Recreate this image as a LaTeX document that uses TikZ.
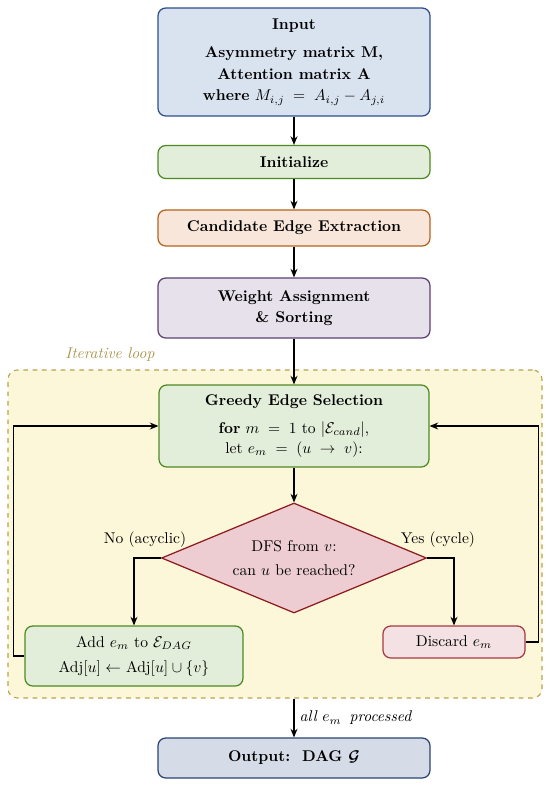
\documentclass[tikz,border=0pt]{standalone}
\usepackage{amsmath}
\usetikzlibrary{shapes.geometric,arrows.meta,positioning}

\definecolor{inputfill}{HTML}{D9E2EF}
\definecolor{inputline}{HTML}{2F4D8A}
\definecolor{greenfill}{HTML}{E3EEDA}
\definecolor{greenline}{HTML}{4E8A22}
\definecolor{candfill}{HTML}{F8E6DA}
\definecolor{candline}{HTML}{B5621C}
\definecolor{weightfill}{HTML}{E7E1EC}
\definecolor{weightline}{HTML}{5E3F72}
\definecolor{loopfill}{HTML}{FDF7DA}
\definecolor{loopline}{HTML}{B9A24E}
\definecolor{looptext}{HTML}{A8954F}
\definecolor{dfsfill}{HTML}{EDCDD1}
\definecolor{dfsline}{HTML}{8E1B1F}
\definecolor{discfill}{HTML}{F3E1E3}
\definecolor{discline}{HTML}{A63A42}
\definecolor{outfill}{HTML}{D5DCE8}
\definecolor{outline}{HTML}{2B4373}

\begin{document}
\begin{tikzpicture}[x=0.642pt, y=-0.642pt,
    block/.style={draw, rounded corners=5pt, line width=0.8pt, align=center, inner sep=2pt},
    conn/.style={-{Stealth[length=5.5pt,width=4.5pt]}, line width=0.7pt},
    side/.style={font=\normalsize}]
    %--------------------%
    % Parameters
    %--------------------%
    \def\pxl{0.642pt}
    \def\colx{294}
    \def\colw{272*\pxl}

    \useasboundingbox (0,0) rectangle (550,787);

    %--------------------%
    % Loop Container
    %--------------------%
    \node[draw=loopline, fill=loopfill, dashed, line width=0.7pt, rounded corners=6pt,
          minimum width=534*\pxl, minimum height=328*\pxl] (loop) at (275,534) {};
    \node[text=looptext, font=\itshape] (looplabel) at (110,355) {Iterative loop};

    %--------------------%
    % Main Column
    %--------------------%
    \node[block, fill=inputfill, draw=inputline, minimum width=\colw, minimum height=108*\pxl] (input) at (\colx,62)
        {\textbf{Input}\\[6pt] \textbf{Asymmetry matrix M,}\\[2pt] \textbf{Attention matrix A}\\[2pt] \textbf{where} $M_{i,j} \;=\; A_{i,j} - A_{j,i}$};
    \node[block, fill=greenfill, draw=greenline, minimum width=\colw, minimum height=33*\pxl] (init) at (\colx,162)
        {\textbf{Initialize}};
    \node[block, fill=candfill, draw=candline, minimum width=\colw, minimum height=36*\pxl] (cand) at (\colx,228)
        {\textbf{Candidate Edge Extraction}};
    \node[block, fill=weightfill, draw=weightline, minimum width=\colw, minimum height=60*\pxl] (weight) at (\colx,308)
        {\textbf{Weight Assignment}\\[1.5pt] \textbf{\& Sorting}};

    %--------------------%
    % Loop Body
    %--------------------%
    \node[block, fill=greenfill, draw=greenline, minimum width=270*\pxl, minimum height=82*\pxl] (greedy) at (\colx,426)
        {\textbf{Greedy Edge Selection}\\[6pt] \textbf{for} $m \;=\; 1$ to $|\mathcal{E}_{cand}|$,\\[1pt] let $e_m \;=\; (u \;\to\; v)$:};
    \node[draw=dfsline, fill=dfsfill, diamond, line width=0.8pt, aspect=2.4, inner sep=0pt, align=center,
          minimum width=265*\pxl, minimum height=110*\pxl] (dfs) at (\colx,558)
        {DFS from $v$:\\[3pt] can $u$ be reached?};
    \node[block, fill=greenfill, draw=greenline, minimum width=218*\pxl, minimum height=60*\pxl] (add) at (134,656)
        {Add $e_m$ to $\mathcal{E}_{DAG}$\\[4pt] Adj$[u] \leftarrow$ Adj$[u] \cup \{v\}$};
    \node[block, fill=discfill, draw=discline, minimum width=142*\pxl, minimum height=32*\pxl] (discard) at (454,642)
        {Discard $e_m$};

    \node[side] (nolabel) at (145,540) {No (acyclic)};
    \node[side] (yeslabel) at (438,540) {Yes (cycle)};

    %--------------------%
    % Output
    %--------------------%
    \node[block, fill=outfill, draw=outline, minimum width=\colw, minimum height=40*\pxl] (out) at (\colx,758)
        {\textbf{Output:\ \ DAG $\boldsymbol{\mathcal{G}}$}};

    %--------------------%
    % Connections
    %--------------------%
    \draw[conn] (input) -- (init);
    \draw[conn] (init) -- (cand);
    \draw[conn] (cand) -- (weight);
    \draw[conn] (weight) -- (greedy);
    \draw[conn] (greedy) -- (dfs);
    \draw[conn] (dfs.west) -| (add.north);
    \draw[conn] (dfs.east) -| (discard.north);
    \draw[conn] (add.west) -- ++(-11,0) |- (greedy.west);
    \draw[conn] (discard.east) -- ++(13,0) |- (greedy.east);
    \draw[conn] (loop.south -| out.north) -- node[right, font=\itshape]{all $e_m$\, processed} (out.north);

\end{tikzpicture}
\end{document}
